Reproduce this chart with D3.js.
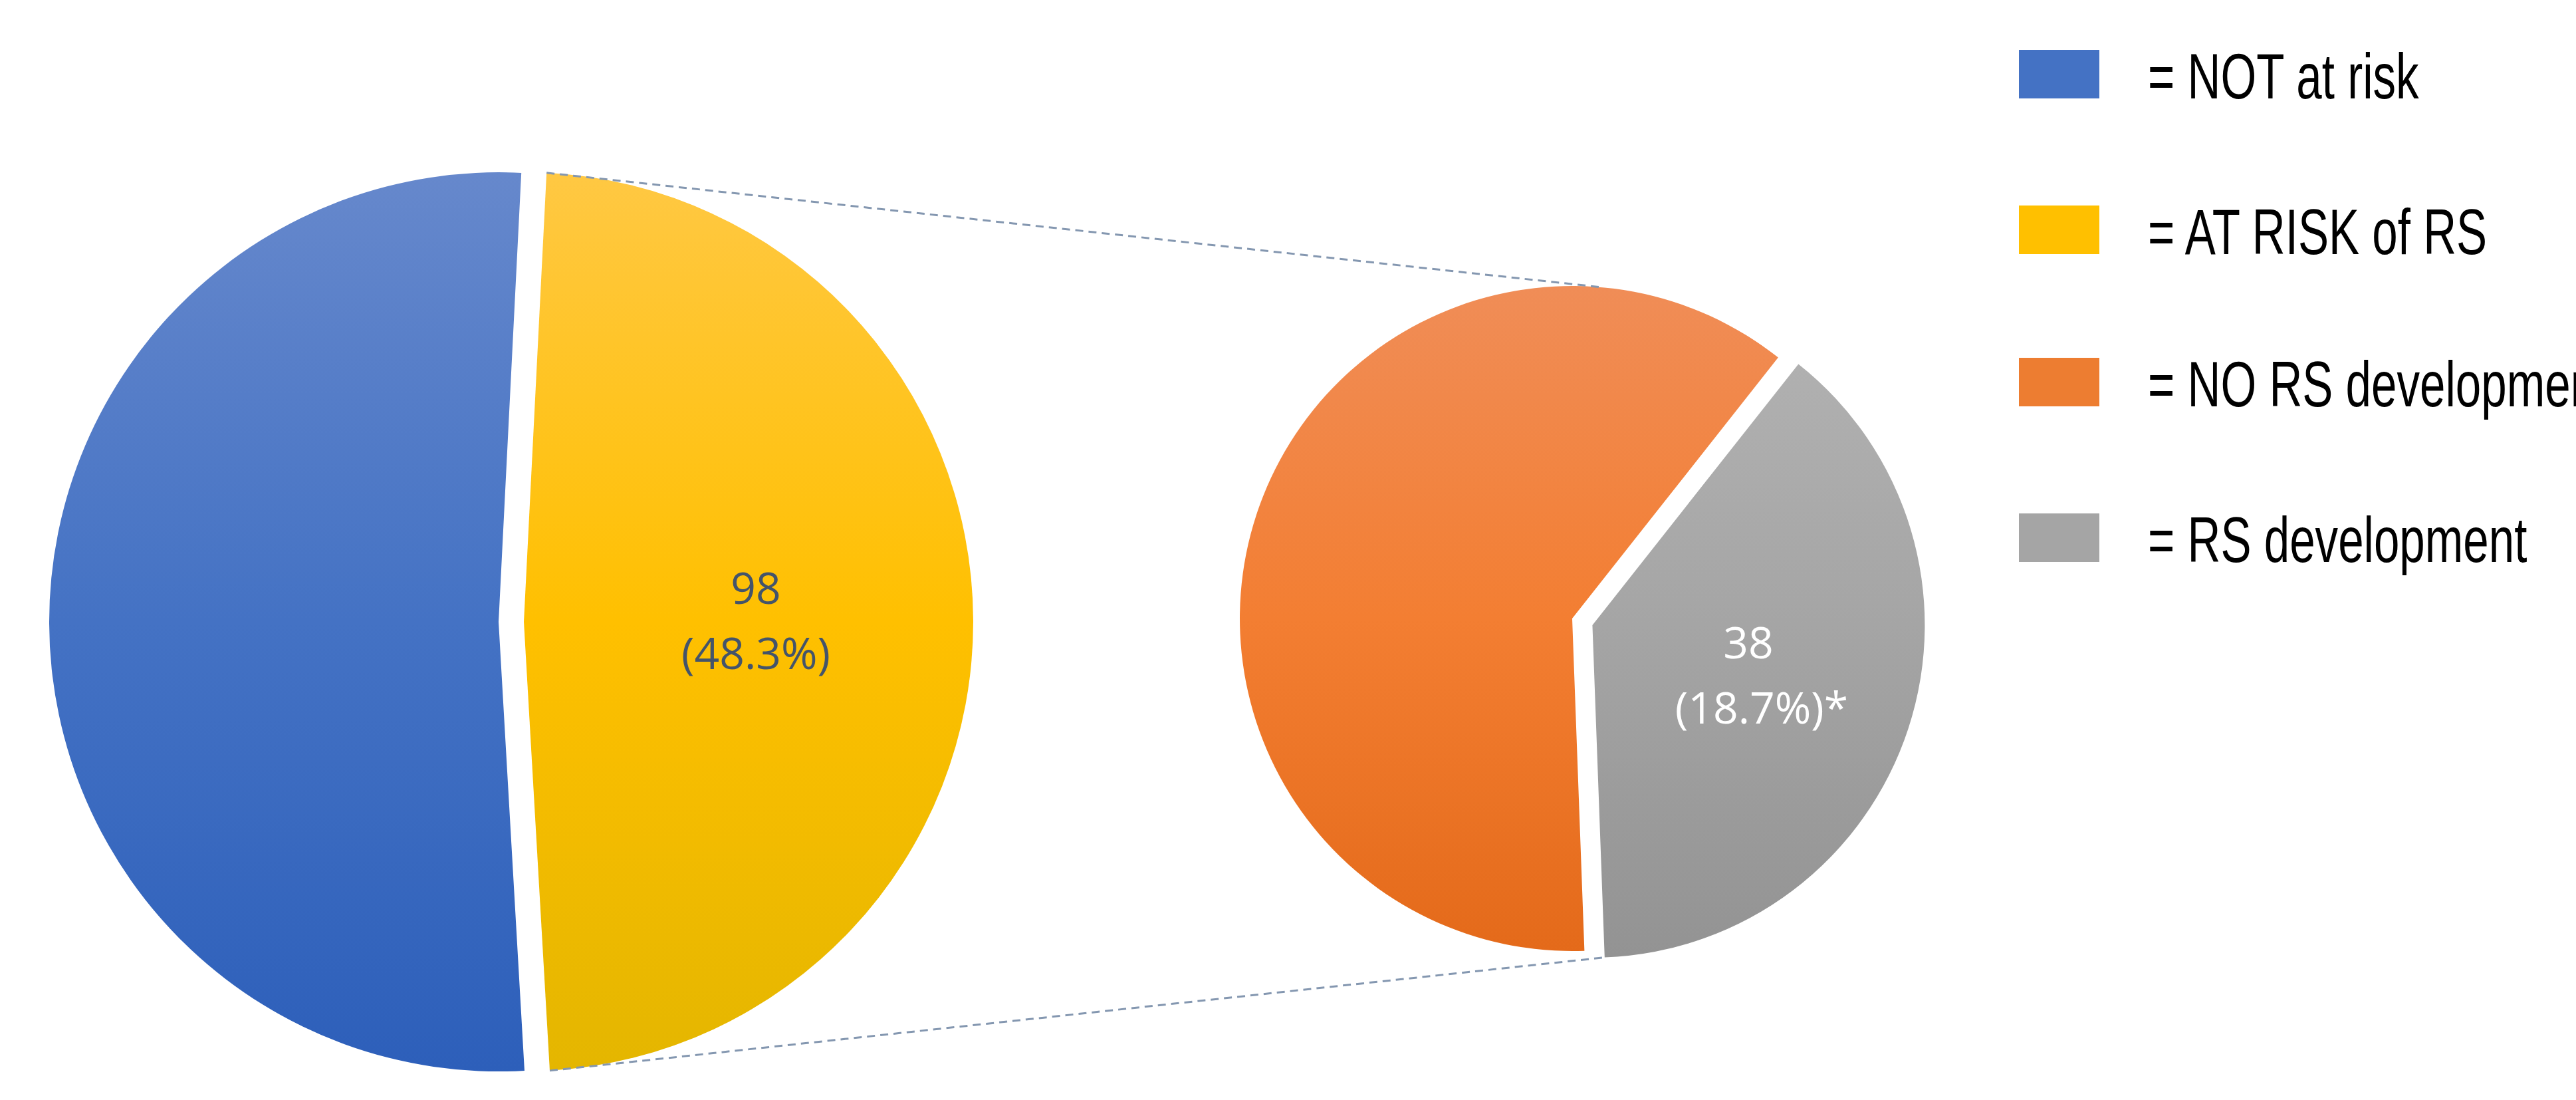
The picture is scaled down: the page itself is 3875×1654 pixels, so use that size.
<!DOCTYPE html>
<html>
<head>
<meta charset="utf-8">
<script src="https://cdn.jsdelivr.net/npm/d3@7"></script>
<style>
  body { margin: 0; background: #fff; }
  svg { display: block; }
</style>
</head>
<body>
<svg id="chart" width="3875" height="1654"></svg>
<script>
// Data
var mainLabels = ["AT RISK of RS", "NOT at risk"];
var mainValues = [98, 105];
var subLabels = ["RS development", "NO RS development"];
var subValues = [38, 60];
var total = 203;

var legendLabels = ["= NOT at risk", "= AT RISK of RS", "= NO RS development", "= RS development"];
var legendColors = ["#4472c4", "#ffc000", "#ed7d31", "#a5a5a5"];

var svg = d3.select("#chart");
var defs = svg.append("defs");

// vertical gradients, one per slice (coords are local to each pie group)
function grad(id, top, mid, bottom, r) {
  var g = defs.append("linearGradient").attr("id", id)
    .attr("gradientUnits", "userSpaceOnUse")
    .attr("x1", 0).attr("x2", 0).attr("y1", -r).attr("y2", r);
  g.append("stop").attr("offset", "0%").attr("stop-color", top);
  g.append("stop").attr("offset", "50%").attr("stop-color", mid);
  g.append("stop").attr("offset", "100%").attr("stop-color", bottom);
}

var toRad = Math.PI / 180;

// Big pie
var big = { cx: 769, cy: 935, r: 676, explode: 19 };
var bigPie = d3.pie().sort(null).startAngle(2.9 * toRad).endAngle((360 + 2.9) * toRad);
var bigArcs = bigPie(mainValues);
grad("gYellow", "#ffc843", "#ffc000", "#e4b600", big.r);
grad("gBlue", "#6688cc", "#4472c4", "#2d5fba", big.r);
var bigFill = ["url(#gYellow)", "url(#gBlue)"];
var bigArc = d3.arc().innerRadius(0).outerRadius(big.r);

var gBig = svg.append("g").attr("transform", "translate(" + big.cx + "," + big.cy + ")");
gBig.selectAll("path").data(bigArcs).enter().append("path")
  .attr("d", bigArc)
  .attr("fill", (d, i) => bigFill[i])
  .attr("transform", d => {
    var m = (d.startAngle + d.endAngle) / 2;
    return "translate(" + (Math.sin(m) * big.explode) + "," + (-Math.cos(m) * big.explode) + ")";
  });

// Small pie
var small = { cx: 2365, cy: 930, r: 500, explode: 32 };
var subPie = d3.pie().sort(null).startAngle(38.3 * toRad).endAngle((360 + 38.3) * toRad);
var subArcs = subPie(subValues);
grad("gGray", "#b3b3b3", "#a5a5a5", "#939393", small.r);
grad("gOrange", "#f08d57", "#f37e32", "#e46a1a", small.r);
var subFill = ["url(#gGray)", "url(#gOrange)"];
var subExplode = [small.explode, 0];
var subArc = d3.arc().innerRadius(0).outerRadius(small.r);

var gSmall = svg.append("g").attr("transform", "translate(" + small.cx + "," + small.cy + ")");
gSmall.selectAll("path").data(subArcs).enter().append("path")
  .attr("d", subArc)
  .attr("fill", (d, i) => subFill[i])
  .attr("transform", (d, i) => {
    var m = (d.startAngle + d.endAngle) / 2;
    return "translate(" + (Math.sin(m) * subExplode[i]) + "," + (-Math.cos(m) * subExplode[i]) + ")";
  });

// dashed connectors from the yellow slice to the small pie
var ya = bigArcs[0], ga = subArcs[0];
function pt(cx, cy, r, a) { return [cx + Math.sin(a) * r, cy - Math.cos(a) * r]; }
var yTop = pt(big.cx + big.explode, big.cy, big.r, ya.startAngle);
var yBot = pt(big.cx + big.explode, big.cy, big.r, ya.endAngle);
var sTop = [small.cx + 45, small.cy - small.r + 2];
var gm = (ga.startAngle + ga.endAngle) / 2;
var sBot = pt(small.cx + Math.sin(gm) * small.explode, small.cy - Math.cos(gm) * small.explode, small.r, ga.endAngle);
[[yTop, sTop], [yBot, sBot]].forEach(l => {
  svg.append("line")
    .attr("x1", l[0][0]).attr("y1", l[0][1]).attr("x2", l[1][0]).attr("y2", l[1][1])
    .attr("stroke", "#8497b0").attr("stroke-width", 3).attr("stroke-dasharray", "12,8");
});

// data labels
var labFont = "'Open Sans', 'Noto Sans', sans-serif";
var yl = svg.append("text").attr("font-family", labFont).attr("font-size", 66)
  .attr("fill", "#44546a").attr("text-anchor", "middle");
yl.append("tspan").attr("x", 1137).attr("y", 908).text(mainValues[0]);
yl.append("tspan").attr("x", 1137).attr("y", 1006)
  .text("(" + (mainValues[0] / total * 100).toFixed(1) + "%)");

var gl = svg.append("text").attr("font-family", labFont).attr("font-size", 66)
  .attr("fill", "#ffffff").attr("text-anchor", "middle");
gl.append("tspan").attr("x", 2630).attr("y", 990).text(subValues[0]);
gl.append("tspan").attr("x", 2650).attr("y", 1088)
  .text("(" + (subValues[0] / total * 100).toFixed(1) + "%)*");

// legend (narrow look: horizontally condensed text)
var legendY = [75, 309, 538, 772];
var legend = svg.append("g");
legendLabels.forEach((t, i) => {
  legend.append("rect").attr("x", 3037).attr("y", legendY[i])
    .attr("width", 121).attr("height", 73).attr("fill", legendColors[i]);
  legend.append("g")
    .attr("transform", "translate(3231," + (legendY[i] + 73) + ") scale(0.72,1)")
    .append("text")
    .attr("font-family", "'Liberation Sans', Arial, sans-serif")
    .attr("font-size", 96).attr("fill", "#000").text(t);
});
</script>
</body>
</html>
